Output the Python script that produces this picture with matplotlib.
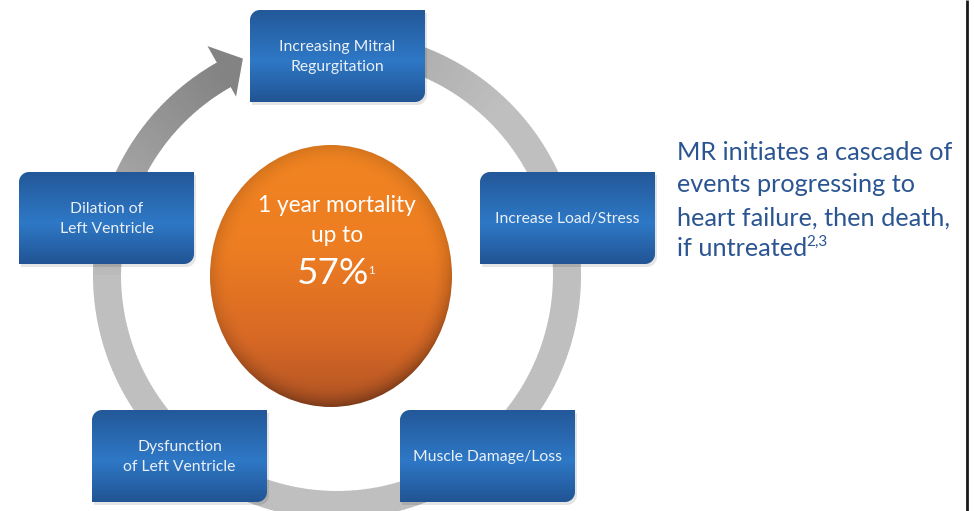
import numpy as np
import matplotlib
matplotlib.use('Agg')
import matplotlib.pyplot as plt
from matplotlib.patches import Wedge, Polygon, PathPatch, Ellipse
from matplotlib.path import Path

# texts of the diagram
box_labels = ["Increasing Mitral\nRegurgitation",
              "Increase Load/Stress",
              "Muscle Damage/Loss",
              "Dysfunction\nof Left Ventricle",
              "Dilation of\nLeft Ventricle"]
center_lines = ["1 year mortality", "up to"]
center_value = "57%"
center_ref = "1"
side_lines = ["MR initiates a cascade of",
              "events progressing to",
              "heart failure, then death,",
              "if untreated"]
side_ref = "2,3"

W, H = 974, 511
FONT = "Lato"

fig = plt.figure(figsize=(9.74, 5.11), dpi=100)
ax = fig.add_axes([0, 0, 1, 1])
ax.axis('off')

# ring geometry (pixel space, y down)
CX, CY = 337, 275
R_OUT, R_IN = 244, 216


def pol(r, th):
    a = np.radians(th)
    return (CX + r * np.cos(a), CY - r * np.sin(a))


def ring_grey(th):
    # th is the visual angle in degrees (counter clockwise, 0 = right)
    if 119.5 <= th <= 185:
        f = (185 - th) / (185 - 119.5)
        return 191 - 60 * f
    if 45 <= th <= 105:
        f = (th - 45) / 60.0
        return 191 - 40 * f
    return 191


# plain ring, clockwise from behind top box to the left side
for th in np.arange(-180, 105, 1.0):
    g = ring_grey(th) / 255
    ax.add_patch(Wedge((CX, CY), R_OUT, -(th + 1.2), -th, width=R_OUT - R_IN,
                       facecolor=(g, g, g), edgecolor='none'))
# arrow shaft with gradient
for th in np.arange(180, 119.5, -0.5):
    g = ring_grey(th) / 255
    ax.add_patch(Wedge((CX, CY), R_OUT, -th, -(th - 0.8), width=R_OUT - R_IN,
                       facecolor=(g, g, g), edgecolor='none'))
# arrow head
head = [pol(263, 119.5), pol(236, 113.5), pol(205, 119.5)]
ax.add_patch(Polygon(head, closed=True, facecolor='#838383', edgecolor='none'))

# central orange disc
ex, ey, erx, ery = 331, 276, 121, 131
n = 400
u, v = np.meshgrid(np.linspace(-1, 1, n), np.linspace(-1, 1, n))
t = (v + 1) / 2
stops = np.array([0.0, 0.4, 0.75, 1.0])
cols = np.array([[242, 133, 33], [237, 125, 34], [214, 104, 37], [176, 83, 36]]) / 255
img = np.zeros((n, n, 3))
for k in range(3):
    img[..., k] = np.interp(t, stops, cols[:, k])
d = np.sqrt(u ** 2 + v ** 2)
edge = np.clip((d - 0.82) / 0.18, 0, 1) ** 2
shade = 1 - edge * (0.12 + 0.18 * np.clip(v + u * 0.3, 0, 1))
img *= shade[..., None]
disc = Ellipse((ex, ey), 2 * erx, 2 * ery, facecolor='none', edgecolor='none')
ax.add_patch(disc)
im = ax.imshow(img, extent=(ex - erx, ex + erx, ey + ery, ey - ery),
               origin='upper', interpolation='bilinear', zorder=2)
im.set_clip_path(disc)


def diag_round_box(x0, y0, x1, y1, r):
    pts = [(x0 + r, y0), (x1, y0), (x1, y1 - r)]
    for a in np.linspace(0, 90, 12):
        pts.append((x1 - r + r * np.cos(np.radians(a)), y1 - r + r * np.sin(np.radians(a))))
    pts += [(x0, y1), (x0, y0 + r)]
    for a in np.linspace(180, 270, 12):
        pts.append((x0 + r + r * np.cos(np.radians(a)), y0 + r + r * np.sin(np.radians(a))))
    pts.append((x0 + r, y0))
    return Path(pts, closed=True)


box_pos = [(250, 10), (480, 172), (400, 410), (92, 410), (19, 172)]
BW, BH = 175, 92
grad = np.linspace(0, 1, 200)
bstops = np.array([0.0, 0.55, 1.0])
bcols = np.array([[35, 88, 152], [46, 120, 198], [33, 84, 148]]) / 255
bimg = np.zeros((200, 2, 3))
for k in range(3):
    bimg[..., k] = np.interp(grad, bstops, bcols[:, k])[:, None]

for (x0, y0), lab in zip(box_pos, box_labels):
    x1, y1 = x0 + BW, y0 + BH
    # soft shadow
    sh = PathPatch(diag_round_box(x0 + 2, y0 + 3, x1 + 2, y1 + 3, 10),
                   facecolor='#000000', alpha=0.10, edgecolor='none', zorder=3)
    ax.add_patch(sh)
    pp = PathPatch(diag_round_box(x0, y0, x1, y1, 10), facecolor='none',
                   edgecolor='none', zorder=4)
    ax.add_patch(pp)
    bi = ax.imshow(bimg, extent=(x0, x1, y1, y0), origin='upper',
                   interpolation='bilinear', aspect='auto', zorder=4)
    bi.set_clip_path(pp)
    ax.text(x0 + BW / 2, y0 + BH / 2 + 1, lab, ha='center', va='center',
            color='#EAF0F8', fontsize=11.3, family=FONT, linespacing=1.5, zorder=5)

# center text
ax.text(337, 206, center_lines[0], ha='center', va='center', color='white',
        fontsize=16.3, family=FONT, zorder=5)
ax.text(337, 236, center_lines[1], ha='center', va='center', color='white',
        fontsize=16.3, family=FONT, zorder=5)
ax.text(333, 274, center_value, ha='center', va='center', color='white',
        fontsize=26.5, family=FONT, zorder=5)
ax.text(368, 270, center_ref, ha='left', va='center', color='white',
        fontsize=8, family=FONT, zorder=5)

# side text
side_y = [153, 185, 218, 249]
side_col = '#2B5592'
last = None
for yy, line in zip(side_y, side_lines):
    last = ax.text(677, yy, line, ha='left', va='center', color=side_col,
                   fontsize=18.2, family=FONT)

ax.set_xlim(0, W)
ax.set_ylim(H, 0)

fig.canvas.draw()
bb = last.get_window_extent(renderer=fig.canvas.get_renderer())
xr = ax.transData.inverted().transform((bb.x1, bb.y1))[0]
ax.text(xr - 1, 242, side_ref, ha='left', va='center', color=side_col,
        fontsize=11, family=FONT)

# right border line
ax.plot([967, 967], [0, H], color='#1a1a1a', lw=2.0, solid_capstyle='butt')

ax.set_xlim(0, W)
ax.set_ylim(H, 0)
fig.savefig('out.png', dpi=100)
